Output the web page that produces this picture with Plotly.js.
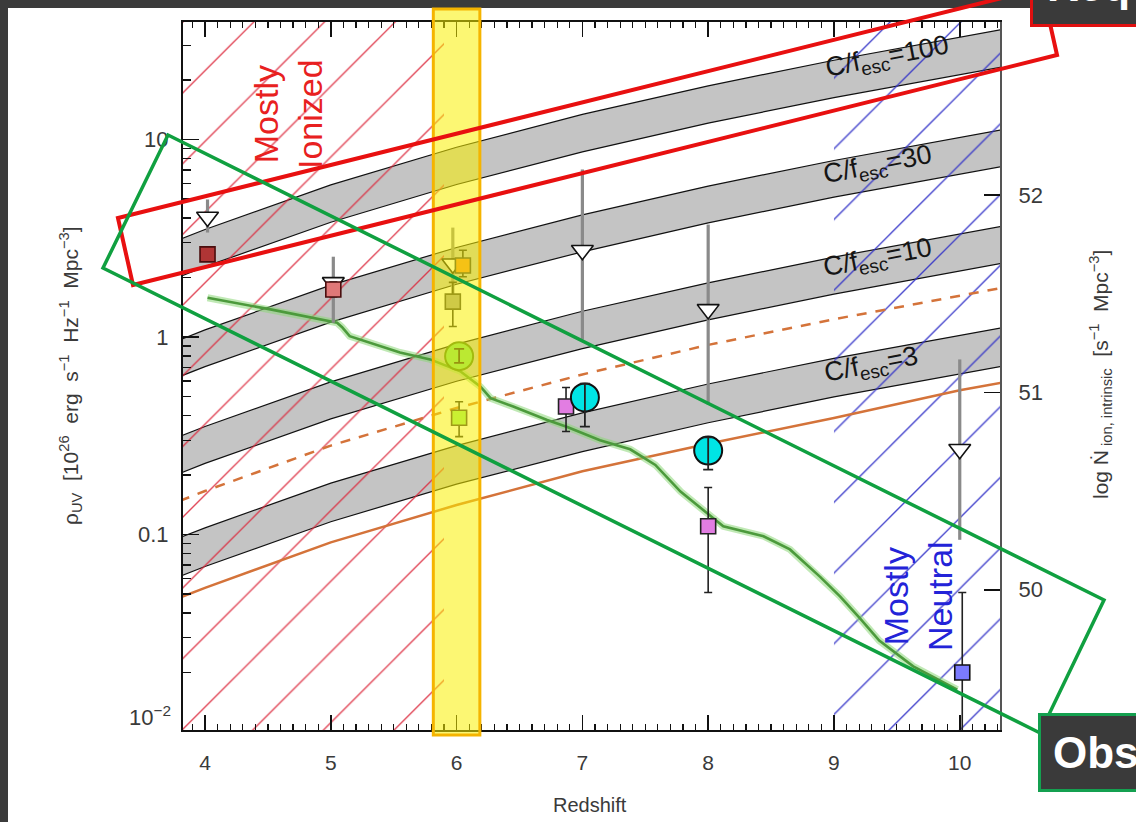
<!DOCTYPE html>
<html><head><meta charset="utf-8">
<script src="https://cdn.plot.ly/plotly-3.0.1.min.js"></script>
<style>html,body{margin:0;padding:0;background:#fff;overflow:hidden}#chart{width:1136px;height:822px}</style>
</head><body><div id="chart"></div>
<script>
// ---------- data ----------
const bandZ = [3.8, 4, 5, 6, 7, 8, 9, 10, 10.35];
const band100Lo = [2.02, 2.27, 3.81, 5.92, 8.65, 12.1, 16.3, 21.4, 23.4];
const band100Hi = [3.12, 3.50, 5.89, 9.14, 13.4, 18.7, 25.2, 33.1, 36.2];
const band30Lo  = [0.631, 0.708, 1.19, 1.85, 2.70, 3.78, 5.11, 6.70, 7.33];
const band30Hi  = [0.968, 1.086, 1.83, 2.84, 4.15, 5.81, 7.83, 10.3, 11.25];
const band10Lo  = [0.204, 0.229, 0.385, 0.597, 0.873, 1.22, 1.65, 2.16, 2.37];
const band10Hi  = [0.314, 0.352, 0.593, 0.920, 1.35, 1.88, 2.54, 3.33, 3.65];
const band3Lo   = [0.0614, 0.0689, 0.116, 0.180, 0.263, 0.368, 0.497, 0.652, 0.713];
const band3Hi   = [0.0964, 0.108, 0.182, 0.282, 0.413, 0.578, 0.780, 1.023, 1.119];
const bandLabels = ['C/f<sub>esc</sub>=100', 'C/f<sub>esc</sub>=30', 'C/f<sub>esc</sub>=10', 'C/f<sub>esc</sub>=3'];

const orangeSolid  = [0.0479, 0.0537, 0.0912, 0.141, 0.209, 0.288, 0.389, 0.537, 0.589];
const orangeDashed = [0.148, 0.166, 0.282, 0.437, 0.646, 0.912, 1.23, 1.62, 1.78];

const greenZ = [4.02, 4.52, 5.05, 5.09, 5.15, 5.55, 5.79, 6.03, 6.19, 6.27, 6.45, 6.72, 6.88, 7.14, 7.38, 7.58, 7.78, 8.12, 8.44, 8.65, 8.89, 9.05, 9.20, 9.36, 9.63, 9.98];
const greenRho = [1.58, 1.38, 1.18, 1.12, 1.01, 0.835, 0.77, 0.67, 0.56, 0.49, 0.445, 0.38, 0.35, 0.30, 0.27, 0.225, 0.165, 0.11, 0.098, 0.084, 0.061, 0.0485, 0.038, 0.029, 0.0215, 0.0164];

const limZ   = [4.02, 5.02, 5.97, 7.0, 8.0, 10.0];
const limRho = [4.05, 1.89, 2.35, 2.75, 1.38, 0.27];
const limHi  = [4.97, 2.55, 3.58, 7.05, 3.71, 0.77];
const limLo  = [3.38, 1.18, 1.55, 0.97, 0.455, 0.094];

const sqZ     = [4.02, 5.02, 6.05, 5.97, 6.02, 6.87, 8.0, 10.02];
const sqRho   = [2.62, 1.74, 2.30, 1.51, 0.39, 0.445, 0.110, 0.020];
const sqHi    = [2.80, 1.90, 2.75, 1.89, 0.47, 0.555, 0.173, 0.0508];
const sqLo    = [2.45, 1.60, 2.02, 1.13, 0.313, 0.332, 0.0508, 0.004];
const sqColor = ['#b03535', '#e07878', '#f08a30', '#9c9c9c', '#90f070', '#e27de2', '#e27de2', '#7b7bff'];
const sqEdge  = ['#4a0d0d', '#4a0d0d', '#333', '#333', '#333', '#222', '#222', '#111'];

const circZ   = [6.02, 7.02, 8.0];
const circRho = [0.80, 0.494, 0.266];
const circHi  = [0.87, 0.58, 0.31];
const circLo  = [0.74, 0.352, 0.213];
const circColor = ['#70e070', '#00e5e5', '#00e5e5'];
const circEdge  = ['#3a7a20', '#111', '#111'];

const ionizedZ = [3.7, 5.9];
const neutralZ = [9.0, 10.5];
const rhoSpan  = [0.003, 200];
const highlightZ = [5.815, 6.185];

const yMajor = [0.1, 1, 10];
const yMajorText = ['0.1', '1', '10'];
const yMinor = [0.02, 0.03, 0.04, 0.05, 0.06, 0.07, 0.08, 0.09, 0.2, 0.3, 0.4, 0.5, 0.6, 0.7, 0.8, 0.9, 2, 3, 4, 5, 6, 7, 8, 9, 20, 30];
const xMajor = [4, 5, 6, 7, 8, 9, 10];
const y2Major = [50, 51, 52];

// ---------- geometry helpers (pixel -> paper) ----------
const W = 1136, H = 822, ML = 183, MR = 136, MT = 22, MB = 92;
const PW = W - ML - MR, PH = H - MT - MB;
const px = v => (v - ML) / PW;
const py = v => (H - MB - v) / PH;

// ---------- traces ----------
const traces = [];
function band(lo, hi) {
  traces.push({x: bandZ, y: lo, mode: 'lines', line: {color: '#111', width: 1.2}, hoverinfo: 'skip', showlegend: false});
  traces.push({x: bandZ, y: hi, mode: 'lines', fill: 'tonexty', fillcolor: '#c4c4c4', line: {color: '#111', width: 1.2}, hoverinfo: 'skip', showlegend: false});
}
band(band100Lo, band100Hi);
band(band30Lo, band30Hi);
band(band10Lo, band10Hi);
band(band3Lo, band3Hi);

function hatch(zr, color) {
  traces.push({x: [zr[0], zr[1], zr[1], zr[0], zr[0]], y: [rhoSpan[0], rhoSpan[0], rhoSpan[1], rhoSpan[1], rhoSpan[0]],
    mode: 'none', fill: 'toself', fillcolor: 'rgba(0,0,0,0)',
    fillpattern: {shape: '/', fgcolor: color, bgcolor: 'rgba(0,0,0,0)', size: 50, solidity: 0.028},
    hoverinfo: 'skip', showlegend: false});
}
hatch(ionizedZ, 'rgba(220,40,60,0.85)');
hatch(neutralZ, 'rgba(50,50,200,0.9)');

traces.push({x: bandZ, y: orangeDashed, mode: 'lines', line: {color: '#d4733a', width: 2.5, dash: '10px,9px'}, showlegend: false});
traces.push({x: bandZ, y: orangeSolid, mode: 'lines', line: {color: '#d4733a', width: 2.5}, showlegend: false});

traces.push({x: greenZ, y: greenRho, mode: 'lines', line: {color: 'rgba(140,215,120,0.55)', width: 7}, showlegend: false});
traces.push({x: greenZ, y: greenRho, mode: 'lines', line: {color: '#4c9a3c', width: 2.6}, showlegend: false});

function errs(v, hi, lo) {
  return {type: 'data', symmetric: false, array: hi.map((h, i) => h - v[i]), arrayminus: lo.map((l, i) => v[i] - l)};
}
traces.push({x: limZ, y: limRho, mode: 'markers',
  marker: {symbol: 'triangle-down', size: 19, color: '#fff', line: {color: '#111', width: 1.6}},
  error_y: Object.assign(errs(limRho, limHi, limLo), {color: '#8a8a8a', thickness: 3.2, width: 0}), showlegend: false});

traces.push({x: sqZ, y: sqRho, mode: 'markers',
  marker: {symbol: 'square', size: 15, color: sqColor, line: {color: sqEdge, width: 1.6}},
  error_y: Object.assign(errs(sqRho, sqHi, sqLo), {color: '#222', thickness: 1.6, width: 4}), showlegend: false});

traces.push({x: circZ, y: circRho, mode: 'markers',
  marker: {symbol: 'circle', size: 28, color: circColor, line: {color: circEdge, width: 2}}, showlegend: false});
traces.push({x: circZ, y: circRho, mode: 'markers', marker: {size: 1, opacity: 0},
  error_y: Object.assign(errs(circRho, circHi, circLo), {color: '#222', thickness: 1.8, width: 5}), showlegend: false});

traces.push({x: [], y: [], yaxis: 'y2', mode: 'markers', showlegend: false});

// ---------- layout ----------
const FONT = 'Liberation Sans, Arial, sans-serif';
const txtCol = '#3a3a3a';
function note(text, x, y, size, color, angle, extra) {
  return Object.assign({text: text, xref: 'paper', yref: 'paper', x: px(x), y: py(y), xanchor: 'center', yanchor: 'middle',
    showarrow: false, textangle: angle || 0, font: {family: FONT, size: size, color: color}}, extra || {});
}
const bandLabelPos = [[887, 58], [878, 166], [878, 259], [871, 366]];
const annotations = bandLabels.map((t, i) => note(t, bandLabelPos[i][0], bandLabelPos[i][1], 27, '#151515', -11));
annotations.push(note('Mostly<br>Ionized', 288, 114, 34, '#e82020', -90));
annotations.push(note('Mostly<br>Neutral', 918, 596, 34, '#2323d8', -90));
annotations.push(note('ρ<sub>UV</sub>  [10<sup>26</sup>  erg  s<sup>−1</sup>  Hz<sup>−1</sup>  Mpc<sup>−3</sup>]', 70, 376, 21, txtCol, -90));
annotations.push(note('log Ṅ<sub> ion, intrinsic</sub>  [s<sup>−1</sup>  Mpc<sup>−3</sup>]', 1100, 375, 21, txtCol, -90));
annotations.push(note('Redshift', 590, 805, 20, txtCol, 0));
annotations.push(note('10<sup>−2</sup>', 173, 716, 22, txtCol, 0, {xanchor: 'right'}));
annotations.push(note('<b>Required</b>', 1030, 27, 44, '#fff', 0, {xanchor: 'left', yanchor: 'bottom',
  bgcolor: '#3a3a3a', bordercolor: '#e01010', borderwidth: 3, borderpad: 14}));
annotations.push(note('<b>Observed</b>', 1038, 713, 44, '#fff', 0, {xanchor: 'left', yanchor: 'top',
  bgcolor: '#3a3a3a', bordercolor: '#14a050', borderwidth: 3, borderpad: 12}));

function poly(pts) {
  return 'M' + pts.map(p => px(p[0]).toFixed(4) + ',' + py(p[1]).toFixed(4)).join(' L') + ' Z';
}
const shapes = [
  {type: 'rect', xref: 'paper', yref: 'paper', x0: px(0), x1: px(W), y0: py(8), y1: py(0), fillcolor: '#3b3b3b', line: {width: 0}, layer: 'above'},
  {type: 'rect', xref: 'paper', yref: 'paper', x0: px(0), x1: px(8), y0: py(H), y1: py(0), fillcolor: '#3b3b3b', line: {width: 0}, layer: 'above'},
  {type: 'rect', xref: 'x', yref: 'paper', x0: highlightZ[0], x1: highlightZ[1], y0: py(735), y1: py(9),
    fillcolor: 'rgba(250,240,0,0.55)', line: {color: '#f5b400', width: 3}, layer: 'above'},
  {type: 'path', xref: 'paper', yref: 'paper', path: poly([[118, 218], [133, 285], [1057, 55], [1042, -12]]),
    line: {color: '#e81010', width: 4}, layer: 'above'},
  {type: 'path', xref: 'paper', yref: 'paper', path: poly([[168, 135], [1104, 600], [1040, 733], [103, 268]]),
    line: {color: '#10a040', width: 3.5}, layer: 'above'}
];

const layout = {
  width: W, height: H, margin: {l: ML, r: MR, t: MT, b: MB, pad: 0},
  paper_bgcolor: '#fff', plot_bgcolor: '#fff', showlegend: false,
  font: {family: FONT, color: txtCol},
  xaxis: {range: [3.825, 10.32], tickmode: 'array', tickvals: xMajor, ticks: 'inside', ticklen: 15, tickwidth: 1.5,
    tickcolor: '#111', showline: true, linecolor: '#111', linewidth: 2, mirror: 'ticks', showgrid: false, zeroline: false,
    tickfont: {family: FONT, size: 21, color: txtCol}, ticklabelstandoff: 13,
    minor: {dtick: 0.1, ticks: 'inside', ticklen: 6, tickwidth: 1.2, tickcolor: '#111', showgrid: false}},
  yaxis: {type: 'log', range: [-1.99, 1.595], tickmode: 'array', tickvals: yMajor, ticktext: yMajorText,
    ticks: 'inside', ticklen: 16, tickwidth: 1.5, tickcolor: '#111', showline: true, linecolor: '#111', linewidth: 2,
    mirror: true, showgrid: false, zeroline: false, tickfont: {family: FONT, size: 22, color: txtCol}, ticklabelstandoff: 8,
    minor: {tickmode: 'array', tickvals: yMinor, ticks: 'inside', ticklen: 8, tickwidth: 1.4, tickcolor: '#111', showgrid: false}},
  yaxis2: {overlaying: 'y', side: 'right', range: [49.29, 52.875], tickmode: 'array', tickvals: y2Major, ticks: 'inside', ticklen: 16,
    tickwidth: 1.5, tickcolor: '#111', showline: true, linecolor: '#555', linewidth: 2, showgrid: false, zeroline: false,
    tickfont: {family: FONT, size: 22, color: txtCol}, ticklabelstandoff: 12},
  annotations: annotations,
  shapes: shapes
};

Plotly.newPlot('chart', traces, layout, {displayModeBar: false, staticPlot: true});
</script></body></html>
